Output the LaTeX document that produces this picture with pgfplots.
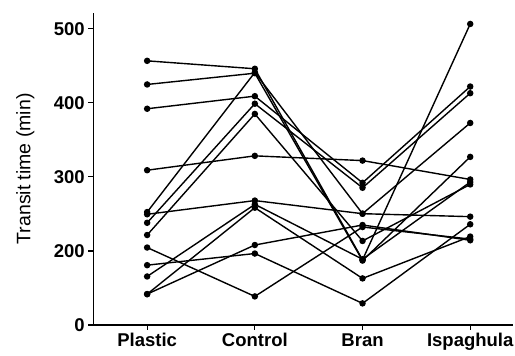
\documentclass[border=0pt]{standalone}
\usepackage{fontspec}
\setmainfont{Liberation Sans}
\usepackage{pgfplots}
\pgfplotsset{compat=1.18}
\begin{document}
\begin{tikzpicture}
\useasboundingbox (0,0) rectangle (515pt,356pt);
\begin{axis}[
  at={(93.3pt,31pt)}, anchor=south west,
  scale only axis, width=420pt, height=312.3pt,
  xmin=-0.5, xmax=3.4, ymin=100, ymax=521.7,
  axis x line=bottom, axis y line=left,
  axis line style={-, line width=1.3pt},
  xtick={0,1,2,3}, xticklabels={Plastic,Control,Bran,Ispaghula},
  ytick={100,200,300,400,500}, yticklabels={0,200,300,400,500},
  tick style={black, line width=1.2pt},
  major tick length=5pt,
  tick align=outside,
  /pgf/number format/assume math mode=true,
  ticklabel style={font=\fontsize{18.5}{21}\selectfont\bfseries},
  ylabel={Transit time (min)},
  ylabel style={font=\fontsize{19.5}{22}\selectfont, at={(axis description cs:-0.162,0.5)}, anchor=center},
  cycle list={black,solid,line width=1.4pt,mark=*,mark size=2.5pt,mark options={solid,fill=black}\\},
  clip=false,
]
\addplot coordinates {(0,456.7)(1,446)(2,188)(3,506.5)};
\addplot coordinates {(0,424.8)(1,440)(2,187)(3,327)};
\addplot coordinates {(0,252.5)(1,441)(2,250.3)(3,372.8)};
\addplot coordinates {(0,392)(1,409)(2,292)(3,422)};
\addplot coordinates {(0,238)(1,398.8)(2,285.3)(3,413)};
\addplot coordinates {(0,221.5)(1,385)(2,213.5)(3,289.8)};
\addplot coordinates {(0,309)(1,328.4)(2,322)(3,296.5)};
\addplot coordinates {(0,249.5)(1,268)(2,250.3)(3,246.3)};
\addplot coordinates {(0,165.5)(1,262.9)(2,188.8)(3,293)};
\addplot coordinates {(0,141.7)(1,258.4)(2,162.9)(3,219.4)};
\addplot coordinates {(0,141.7)(1,208)(2,235)(3,214.4)};
\addplot coordinates {(0,180.8)(1,196.5)(2,129.2)(3,236)};
\addplot coordinates {(0,204.6)(1,138.6)(2,232.3)(3,216)};
\end{axis}
\end{tikzpicture}
\end{document}
